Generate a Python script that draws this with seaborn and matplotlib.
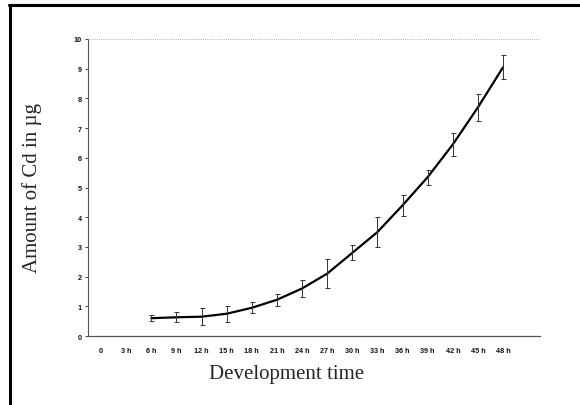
import matplotlib
matplotlib.use("Agg")
import matplotlib.pyplot as plt
import seaborn as sns
import pandas as pd
import numpy as np

tick_labels = ["0", "3 h", "6 h", "9 h", "12 h", "15 h", "18 h", "21 h", "24 h",
               "27 h", "30 h", "33 h", "36 h", "39 h", "42 h", "45 h", "48 h"]
time_labels = ["6 h", "9 h", "12 h", "15 h", "18 h", "21 h", "24 h", "27 h",
               "30 h", "33 h", "36 h", "39 h", "42 h", "45 h", "48 h"]
cd_amount = [0.60, 0.63, 0.65, 0.75, 0.95, 1.22, 1.60, 2.10, 2.80, 3.50,
             4.40, 5.35, 6.45, 7.70, 9.05]
cd_error = [0.10, 0.17, 0.28, 0.27, 0.18, 0.20, 0.30, 0.50, 0.25, 0.50,
            0.35, 0.25, 0.40, 0.45, 0.40]

df = pd.DataFrame({
    "pos": [tick_labels.index(t) for t in time_labels],
    "cd": cd_amount,
    "err": cd_error,
})

sns.set_style("white")
plt.rcParams['font.family'] = ['Liberation Sans', 'DejaVu Sans']

fig = plt.figure(figsize=(5.8, 4.06), dpi=100)
# outer frame (top and left borders visible)
fig.add_artist(plt.Line2D([9/580, 1.0], [1 - 5.5/406, 1 - 5.5/406], color="black", lw=2.2,
                          transform=fig.transFigure))
fig.add_artist(plt.Line2D([9.5/580, 9.5/580], [0, 1 - 5.5/406], color="black", lw=2.2,
                          transform=fig.transFigure))

ax = fig.add_axes([88/580, 1 - 337/406, (540 - 88)/580, (337 - 40)/406])

sns.lineplot(data=df, x="pos", y="cd", ax=ax, color="black", lw=1.6)
ax.errorbar(df["pos"], df["cd"], yerr=df["err"], fmt="none", ecolor="#333333",
            elinewidth=0.7, capsize=1.8, capthick=0.7)

ax.set_xlim(-0.52, 17.47)
ax.set_ylim(0, 10)
ax.set_xticks(range(len(tick_labels)))
ax.set_xticklabels(tick_labels)
ax.set_yticks(range(0, 11))
ax.tick_params(axis="x", length=0, labelsize=5.2, pad=8, labelcolor="#111111")
ax.tick_params(axis="y", length=2.5, width=0.6, labelsize=5.2, pad=2, left=True,
               labelcolor="#111111")
for lab in ax.get_xticklabels() + ax.get_yticklabels():
    lab.set_fontweight("bold")
ax.axhline(10, color="#999999", lw=0.6, ls=(0, (1, 1.5)))

for s in ["top", "right"]:
    ax.spines[s].set_visible(False)
ax.spines["left"].set_color("#555555")
ax.spines["left"].set_linewidth(0.8)
ax.spines["left"].set_linestyle((0, (3, 1, 1, 1)))
ax.spines["bottom"].set_color("#555555")
ax.spines["bottom"].set_linewidth(0.9)

ax.set_xlabel("Development time", family=["Liberation Serif"], fontsize=15)
ax.set_ylabel("Amount of Cd in µg", family=["Liberation Serif"], fontsize=15)
ax.xaxis.label.set_va("center")
ax.yaxis.label.set_va("center")
ax.xaxis.set_label_coords((287 - 88) / 452, -(374 - 337) / 297)
ax.yaxis.set_label_coords((32 - 88) / 452, (337 - 188) / 297)

fig.savefig("out.png", dpi=100)
